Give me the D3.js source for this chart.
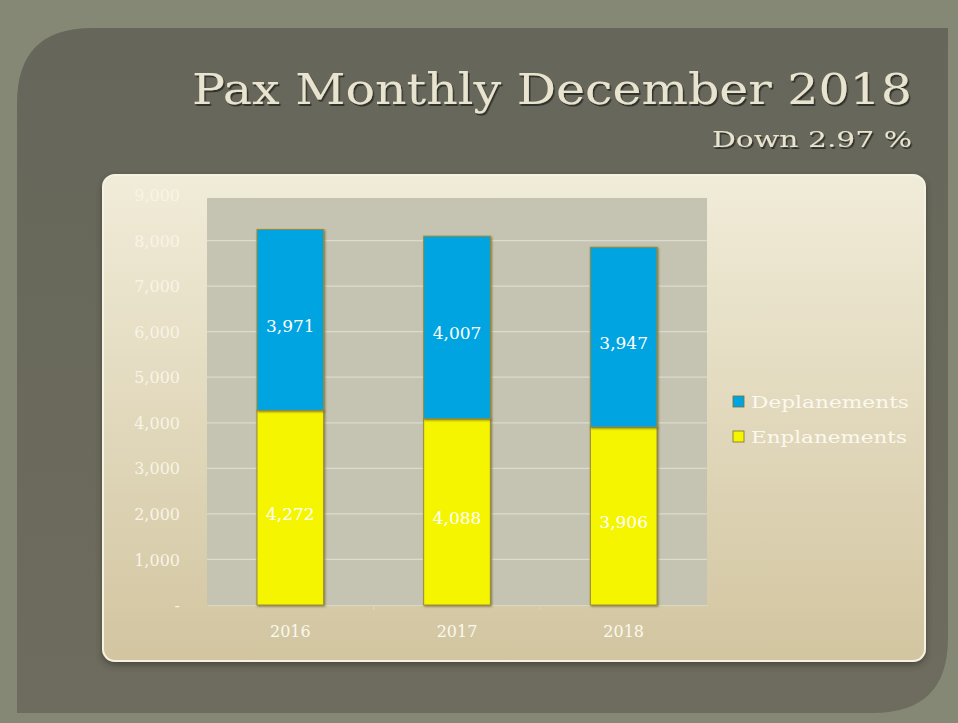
<!DOCTYPE html>
<html><head><meta charset="utf-8">
<script src="https://cdn.jsdelivr.net/npm/d3@7"></script>
<style>html,body{margin:0;padding:0;background:#868876;}svg{display:block;}</style>
</head><body>
<script>
const categories = ["2016", "2017", "2018"];
const enplanements = [4272, 4088, 3906];
const deplanements = [3971, 4007, 3947];
const seriesNames = ["Deplanements", "Enplanements"];
const yTicks = [0, 1000, 2000, 3000, 4000, 5000, 6000, 7000, 8000, 9000];
const title = "Pax Monthly December 2018";
const subtitle = "Down 2.97 %";

const W = 958, H = 723;
const svg = d3.select("body").append("svg").attr("width", W).attr("height", H);
const defs = svg.append("defs");

const g1 = defs.append("linearGradient").attr("id","panelGrad").attr("x1",0).attr("y1",0).attr("x2",0).attr("y2",1);
g1.append("stop").attr("offset","0%").attr("stop-color","#f1ecd9");
g1.append("stop").attr("offset","100%").attr("stop-color","#d2c5a0");
const g2 = defs.append("linearGradient").attr("id","darkGrad").attr("x1",0).attr("y1",0).attr("x2",0).attr("y2",1);
g2.append("stop").attr("offset","0%").attr("stop-color","#66665a");
g2.append("stop").attr("offset","100%").attr("stop-color","#6d6c5e");

const sh = defs.append("filter").attr("id","ts").attr("x","-10%").attr("y","-10%").attr("width","120%").attr("height","130%");
sh.append("feDropShadow").attr("dx",1.5).attr("dy",2).attr("stdDeviation",0.6).attr("flood-color","#2e2d25").attr("flood-opacity",0.9);
const bs = defs.append("filter").attr("id","bs").attr("x","-10%").attr("y","-10%").attr("width","130%").attr("height","130%");
bs.append("feDropShadow").attr("dx",1).attr("dy",1).attr("stdDeviation",0.8).attr("flood-color","#6b5e20").attr("flood-opacity",0.8);
const ps = defs.append("filter").attr("id","ps").attr("x","-5%").attr("y","-5%").attr("width","110%").attr("height","115%");
ps.append("feDropShadow").attr("dx",0).attr("dy",3).attr("stdDeviation",3).attr("flood-color","#3a392f").attr("flood-opacity",0.7);

// dark slide panel with rounded top-left and bottom-right corners
const x0 = 17, y0 = 28, x1 = 948, y1 = 713, r = 75;
svg.append("path")
  .attr("d", `M${x0},${y0+r} Q${x0},${y0} ${x0+r},${y0} L${x1},${y0} L${x1},${y1-r} Q${x1},${y1} ${x1-r},${y1} L${x0},${y1} Z`)
  .attr("fill","url(#darkGrad)");

// cream panel
svg.append("rect").attr("x",103).attr("y",175).attr("width",822).attr("height",486).attr("rx",12)
  .attr("fill","url(#panelGrad)").attr("stroke","#f6f2e2").attr("stroke-width",2).attr("filter","url(#ps)");

// title
const font = "'DejaVu Serif', serif";
svg.append("text").attr("x",912).attr("y",104).attr("text-anchor","end")
  .attr("font-family",font).attr("font-size",42).attr("fill","#e8e4cf").attr("filter","url(#ts)")
  .attr("textLength",720).attr("lengthAdjust","spacingAndGlyphs").text(title);
svg.append("text").attr("x",912).attr("y",147).attr("text-anchor","end")
  .attr("font-family",font).attr("font-size",22).attr("fill","#e8e4cf").attr("filter","url(#ts)")
  .attr("textLength",200).attr("lengthAdjust","spacingAndGlyphs").text(subtitle);

// scales
const plot = {left: 207, right: 707, top: 195, bottom: 605};
const x = d3.scaleBand().domain(categories).range([plot.left, plot.right]).paddingInner(0.6).paddingOuter(0.3);
const y = d3.scaleLinear().domain([0, 9000]).range([plot.bottom, plot.top]);

svg.append("rect").attr("x",plot.left).attr("y",198).attr("width",plot.right-plot.left).attr("height",plot.bottom-198)
  .attr("fill","#c5c4b3");

// gridlines
svg.append("g").selectAll("line").data(yTicks.filter(d=>d>0 && d<9000)).join("line")
  .attr("x1",plot.left).attr("x2",plot.right).attr("y1",d=>y(d)).attr("y2",d=>y(d))
  .attr("stroke","#dcdbcd").attr("stroke-width",1.2);

// y axis labels
const yAxis = d3.axisLeft(y).tickValues(yTicks).tickSize(0).tickPadding(0)
  .tickFormat(d => d === 0 ? "-" : d3.format(",")(d));
const ya = svg.append("g").attr("transform","translate(180,0)").call(yAxis);
ya.select(".domain").remove();
ya.selectAll("text").attr("font-family",font).attr("font-size",16).attr("fill","#f8f4e6").attr("dy","0.35em");

// x axis
const xAxis = d3.axisBottom(x).tickSize(0).tickPadding(0);
const xa = svg.append("g").attr("transform",`translate(0,${plot.bottom})`).call(xAxis);
xa.select(".domain").attr("stroke","#d8d7c8");
xa.selectAll("text").attr("font-family",font).attr("font-size",16).attr("fill","#fbf8ee").attr("dy","2.0em");
// category separator ticks
const seps = [1,2].map(i => plot.left + i*(plot.right-plot.left)/3);
svg.append("g").selectAll("line").data(seps).join("line")
  .attr("x1",d=>d).attr("x2",d=>d).attr("y1",plot.bottom).attr("y2",plot.bottom+5)
  .attr("stroke","#d8d7c8");

// stacked bars
const rows = categories.map((c,i)=>({cat:c, Enplanements: enplanements[i], Deplanements: deplanements[i]}));
const stack = d3.stack().keys(["Enplanements","Deplanements"])(rows);
const colors = {Enplanements:"#f5f500", Deplanements:"#00a4e1"};
const bars = svg.append("g");
stack.forEach(layer => {
  bars.append("g").selectAll("rect").data(layer).join("rect")
    .attr("x", d => x(d.data.cat)).attr("width", x.bandwidth())
    .attr("y", d => y(d[1])).attr("height", d => y(d[0]) - y(d[1]))
    .attr("fill", colors[layer.key]).attr("stroke","#9a8a3a").attr("stroke-width",1)
    .attr("filter","url(#bs)");
});
stack.forEach(layer => {
  bars.append("g").selectAll("text").data(layer).join("text")
    .attr("x", d => x(d.data.cat) + x.bandwidth()/2)
    .attr("y", d => (y(d[0]) + y(d[1]))/2 + 6)
    .attr("dy","0.35em").attr("text-anchor","middle")
    .attr("font-family",font).attr("font-size",17).attr("fill","#ffffff")
    .text(d => d3.format(",")(d[1]-d[0]));
});

// legend
const legend = svg.append("g");
seriesNames.forEach((name,i) => {
  const ly = 402 + i*35;
  legend.append("rect").attr("x",733).attr("y",ly-6).attr("width",11).attr("height",11)
    .attr("fill",colors[name]).attr("stroke","#7a6e30").attr("stroke-width",0.8);
  legend.append("text").attr("x",751).attr("y",ly).attr("dy","0.35em")
    .attr("font-family",font).attr("font-size",17).attr("fill","#fbf8ee")
    .attr("textLength", name === "Deplanements" ? 158 : 156).attr("lengthAdjust","spacingAndGlyphs").text(name);
});
</script>
</body></html>
